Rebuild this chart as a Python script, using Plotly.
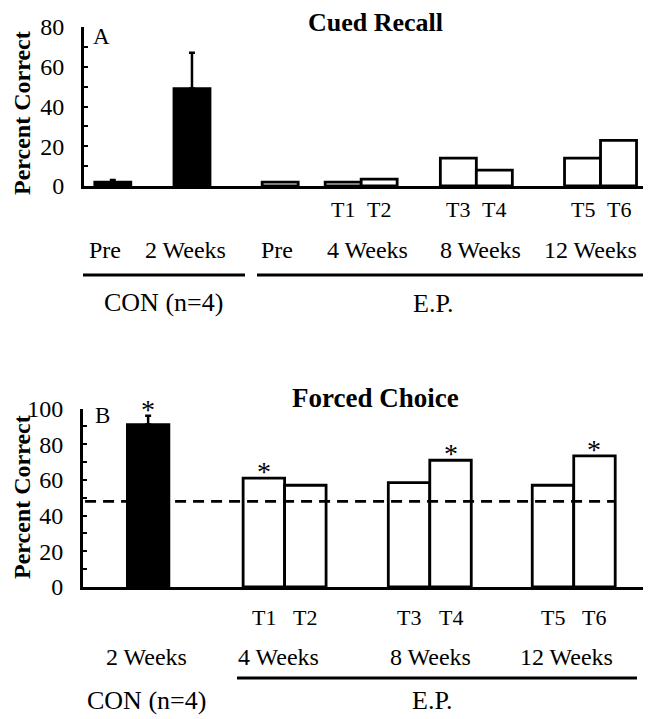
import plotly.graph_objects as go

# ---- data ----
cued_con_labels = ["Pre", "2 Weeks"]
cued_con_values = [2, 49]
cued_con_err = [1, 18]

cued_ep_labels = ["Pre", "T1", "T2", "T3", "T4", "T5", "T6"]
cued_ep_values = [2, 2, 3.5, 14, 8, 14, 23]

forced_con_labels = ["2 Weeks"]
forced_con_values = [91]
forced_con_err = [5]

forced_ep_labels = ["T1", "T2", "T3", "T4", "T5", "T6"]
forced_ep_values = [61, 57, 58.5, 71, 57, 73.5]
forced_ep_sig = [True, False, False, True, False, True]
forced_con_sig = [True]

chance_level = 48

week_labels = ["4 Weeks", "8 Weeks", "12 Weeks"]

# ---- layout positions (bar centres in axis units, bar width = 1) ----
pos_cued_con = [0.8, 3.0]
pos_cued_ep = [5.45, 7.2, 8.2, 10.4, 11.4, 13.85, 14.85]
pos_forced_con = [1.57]
pos_forced_ep = [4.36, 5.36, 7.86, 8.86, 11.33, 12.33]

# page is 652x719 but the body has an 8px margin, so the figure is drawn 8px in
OFF = 8
W, H = 652 - OFF, 719 - OFF
FONT = "Liberation Serif"
LW = 2.8


def px(x):
    return (x - OFF) / W


def py(y):
    return 1 - (y - OFF) / H


def label(x, y, text, size, xref="paper", **kw):
    return dict(x=x, y=y, xref=xref, yref="paper", text=text, showarrow=False,
                xanchor="center", yanchor="middle", font=dict(size=size), **kw)


fig = go.Figure()

# top panel
fig.add_trace(go.Bar(
    x=pos_cued_con, y=cued_con_values, width=1,
    marker=dict(color="black", line=dict(color="black", width=LW)),
    error_y=dict(type="data", array=cued_con_err, arrayminus=[0] * len(cued_con_err),
                 symmetric=False, color="black", thickness=2.5, width=3),
    xaxis="x", yaxis="y", showlegend=False))
fig.add_trace(go.Bar(
    x=pos_cued_ep, y=cued_ep_values, width=1,
    marker=dict(color="white", line=dict(color="black", width=LW)),
    xaxis="x", yaxis="y", showlegend=False))

# bottom panel
fig.add_trace(go.Bar(
    x=pos_forced_con, y=forced_con_values, width=1,
    marker=dict(color="black", line=dict(color="black", width=LW)),
    error_y=dict(type="data", array=forced_con_err, arrayminus=[0] * len(forced_con_err),
                 symmetric=False, color="black", thickness=2.5, width=3),
    xaxis="x2", yaxis="y2", showlegend=False))
fig.add_trace(go.Bar(
    x=pos_forced_ep, y=forced_ep_values, width=1,
    marker=dict(color="white", line=dict(color="black", width=LW)),
    xaxis="x2", yaxis="y2", showlegend=False))
# chance line drawn over the bars
fig.add_trace(go.Scatter(
    x=[0.05, pos_forced_ep[-1] + 0.5], y=[chance_level, chance_level],
    mode="lines", line=dict(color="black", width=LW, dash="11px,7px"),
    xaxis="x2", yaxis="y2", showlegend=False))

ann = []
# significance stars
for xp, v, e, s in zip(pos_forced_con, forced_con_values, forced_con_err, forced_con_sig):
    if s:
        ann.append(dict(x=xp, y=v + e, xref="x2", yref="y2", text="*", showarrow=False,
                        xanchor="center", yanchor="bottom", yshift=-11, font=dict(size=28)))
for xp, v, s in zip(pos_forced_ep, forced_ep_values, forced_ep_sig):
    if s:
        ann.append(dict(x=xp, y=v, xref="x2", yref="y2", text="*", showarrow=False,
                        xanchor="center", yanchor="bottom", yshift=-11, font=dict(size=28)))

# titles, panel letters, y titles
ann += [
    label(px(375), py(22), "<b>Cued Recall</b>", 26),
    label(px(375), py(398), "<b>Forced Choice</b>", 27),
    label(px(101), py(37), "A", 23),
    label(px(102), py(415), "B", 23),
    label(px(22), py(113), "<b>Percent Correct</b>", 24, textangle=-90),
    label(px(22), py(497), "<b>Percent Correct</b>", 24, textangle=-90),
]

# top panel category labels
for xp, lab in zip(pos_cued_ep[1:], cued_ep_labels[1:]):
    ann.append(label(xp, py(210), lab, 22, xref="x"))
ann.append(label(px(105), py(250), cued_con_labels[0], 24))
ann.append(label(px(185), py(250), cued_con_labels[1], 24))
ann.append(label(px(277), py(250), cued_ep_labels[0], 24))
for xx, lab in zip([368, 480, 590], week_labels):
    ann.append(label(px(xx), py(250), lab, 24))
ann.append(label(px(163), py(302), "CON (n=4)", 26))
ann.append(label(px(433), py(304), "E.P.", 26))

# bottom panel category labels
for xp, lab in zip(pos_forced_ep, forced_ep_labels):
    ann.append(label(xp, py(617), lab, 22, xref="x2"))
ann.append(label(px(146), py(657), forced_con_labels[0], 24))
for xx, lab in zip([278, 430, 566], week_labels):
    ann.append(label(px(xx), py(657), lab, 24))
ann.append(label(px(146), py(700), "CON (n=4)", 26))
ann.append(label(px(432), py(700), "E.P.", 26))

shapes = [
    dict(type="line", xref="paper", yref="paper", x0=px(83), x1=px(245), y0=py(275), y1=py(275),
         line=dict(color="black", width=3)),
    dict(type="line", xref="paper", yref="paper", x0=px(257), x1=px(643), y0=py(275), y1=py(275),
         line=dict(color="black", width=3)),
    dict(type="line", xref="paper", yref="paper", x0=px(237), x1=px(637), y0=py(678), y1=py(678),
         line=dict(color="black", width=3)),
]

yax_common = dict(
    showgrid=False, zeroline=False, showline=True, linecolor="black", linewidth=LW,
    ticks="inside", ticklen=4, tickwidth=2, tickcolor="black",
    tickfont=dict(size=24, color="black"), ticklabelstandoff=12, automargin=False,
    minor=dict(ticks="inside", ticklen=4, tickwidth=2, tickcolor="black", dtick=10),
)
xax_common = dict(
    showgrid=False, zeroline=False, showline=True, linecolor="black", linewidth=LW,
    ticks="", showticklabels=False, automargin=False,
)

fig.update_layout(
    width=W, height=H,
    margin=dict(l=0, r=0, t=0, b=0, autoexpand=False),
    paper_bgcolor="white", plot_bgcolor="white",
    font=dict(family=FONT, color="black"),
    barmode="overlay",
    xaxis=dict(domain=[px(84), px(643)], range=[0, 15.53], anchor="y", **xax_common),
    yaxis=dict(domain=[py(186), py(27)], range=[0, 80], dtick=20, anchor="x", **yax_common),
    xaxis2=dict(domain=[px(83), px(643)], range=[0, 13.5], anchor="y2", **xax_common),
    yaxis2=dict(domain=[py(587), py(408.5)], range=[0, 100], dtick=20, anchor="x2", **yax_common),
    annotations=ann,
    shapes=shapes,
)

fig.write_html("out.html")
